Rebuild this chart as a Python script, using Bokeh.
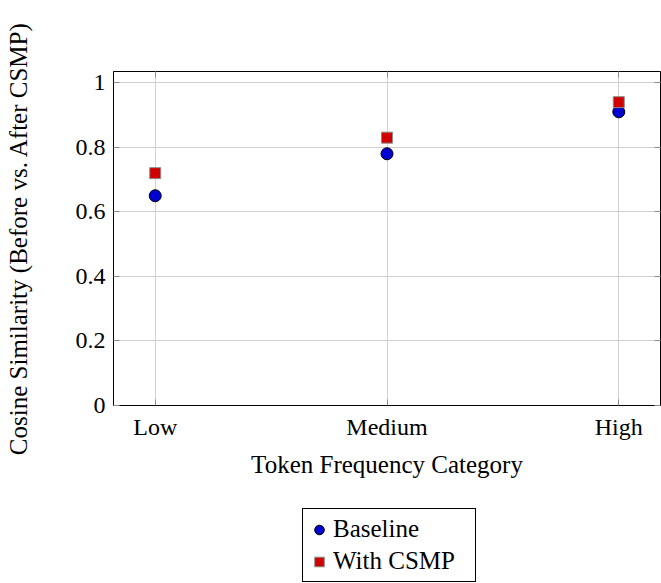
from bokeh.plotting import figure
from bokeh.layouts import column
from bokeh.models import (FixedTicker, LinearAxis, Legend, LegendItem, Range1d)
from bokeh.embed import file_html
from bokeh.resources import INLINE

# ---- data ----
categories = ["Low", "Medium", "High"]
baseline = [0.65, 0.78, 0.91]
csmp = [0.72, 0.83, 0.94]
y_ticks = [0, 0.2, 0.4, 0.6, 0.8, 1.0]
y_tick_labels = ["0", "0.2", "0.4", "0.6", "0.8", "1"]
series_names = ["Baseline", "With CSMP"]

xs = list(range(len(categories)))

FONT = "Liberation Serif"
TICK_COLOR = "#8c8c8c"
GRID_COLOR = "#d0d0d0"
BLUE = "#0000d0"
RED = "#d00000"

p = figure(width=661, height=490, output_backend="svg", toolbar_location=None,
           x_range=Range1d(-0.18, len(categories) - 1 + 0.18),
           y_range=Range1d(0, 1.035),
           min_border_left=113, min_border_top=71, min_border_right=1,
           min_border_bottom=85)

p.background_fill_color = "white"
p.border_fill_color = "white"
p.outline_line_color = "black"
p.outline_line_width = 1

# grid
p.xgrid.ticker = FixedTicker(ticks=xs)
p.ygrid.ticker = FixedTicker(ticks=y_ticks)
p.grid.grid_line_color = GRID_COLOR
p.grid.grid_line_width = 1

# bottom / left axes
xa = p.xaxis[0]
xa.ticker = FixedTicker(ticks=xs)
xa.major_label_overrides = {i: c for i, c in zip(xs, categories)}
xa.axis_label = "Token Frequency Category"
ya = p.yaxis[0]
ya.ticker = FixedTicker(ticks=y_ticks)
ya.major_label_overrides = {t: l for t, l in zip(y_ticks, y_tick_labels)}
ya.axis_label = "Cosine Similarity (Before vs. After CSMP)"

for ax in (xa, ya):
    ax.axis_line_color = "black"
    ax.major_tick_in = 6
    ax.major_tick_out = 0
    ax.major_tick_line_color = TICK_COLOR
    ax.minor_tick_line_color = None
    ax.major_label_text_font = FONT
    ax.major_label_text_font_size = "24px"
    ax.major_label_text_color = "black"
    ax.axis_label_text_font = FONT
    ax.axis_label_text_font_size = "25px"
    ax.axis_label_text_font_style = "normal"
    ax.axis_label_text_color = "black"
    ax.major_label_standoff = 8

xa.axis_label_standoff = 8
ya.axis_label_standoff = 41

# top / right axes with inward ticks only
top = LinearAxis(ticker=FixedTicker(ticks=xs),
                 major_label_overrides={i: "" for i in xs})
right = LinearAxis(ticker=FixedTicker(ticks=y_ticks),
                   major_label_overrides={t: "" for t in y_ticks})
for ax in (top, right):
    ax.axis_line_color = None
    ax.major_tick_in = 6
    ax.major_tick_out = 0
    ax.major_tick_line_color = TICK_COLOR
    ax.minor_tick_line_color = None
    ax.major_label_standoff = 0
p.add_layout(top, "above")
p.add_layout(right, "right")

# data marks
r1 = p.scatter(xs, baseline, marker="circle", size=12,
               fill_color=BLUE, line_color="black", line_width=1)
r2 = p.scatter(xs, csmp, marker="square", size=11,
               fill_color=RED, line_color=TICK_COLOR, line_width=1)

# ---- legend strip below the chart (its ranges keep the data out of view) ----
q = figure(width=661, height=93, output_backend="svg", toolbar_location=None,
           x_axis_type=None, y_axis_type=None,
           x_range=Range1d(-20, -19), y_range=Range1d(-20, -19),
           min_border=0)
q.outline_line_color = None
q.background_fill_color = "white"
q.border_fill_color = "white"
l1 = q.scatter(xs, baseline, marker="circle", size=12,
               fill_color=BLUE, line_color="black", line_width=1)
l2 = q.scatter(xs, csmp, marker="square", size=11,
               fill_color=RED, line_color=TICK_COLOR, line_width=1)

legend = Legend(items=[LegendItem(label=series_names[0], renderers=[l1], index=0),
                       LegendItem(label=series_names[1], renderers=[l2], index=0)],
                location=(189, 1), orientation="vertical",
                border_line_color="black", border_line_width=1,
                border_line_alpha=1.0,
                label_text_font=FONT, label_text_font_size="25px",
                label_text_color="black",
                glyph_width=24, glyph_height=25, label_height=32,
                label_standoff=2, padding=4, spacing=0,
                label_width=138, margin=0)
q.add_layout(legend, "center")

layout = column(p, q, spacing=0)
open("out.html", "w").write(file_html(layout, INLINE))
